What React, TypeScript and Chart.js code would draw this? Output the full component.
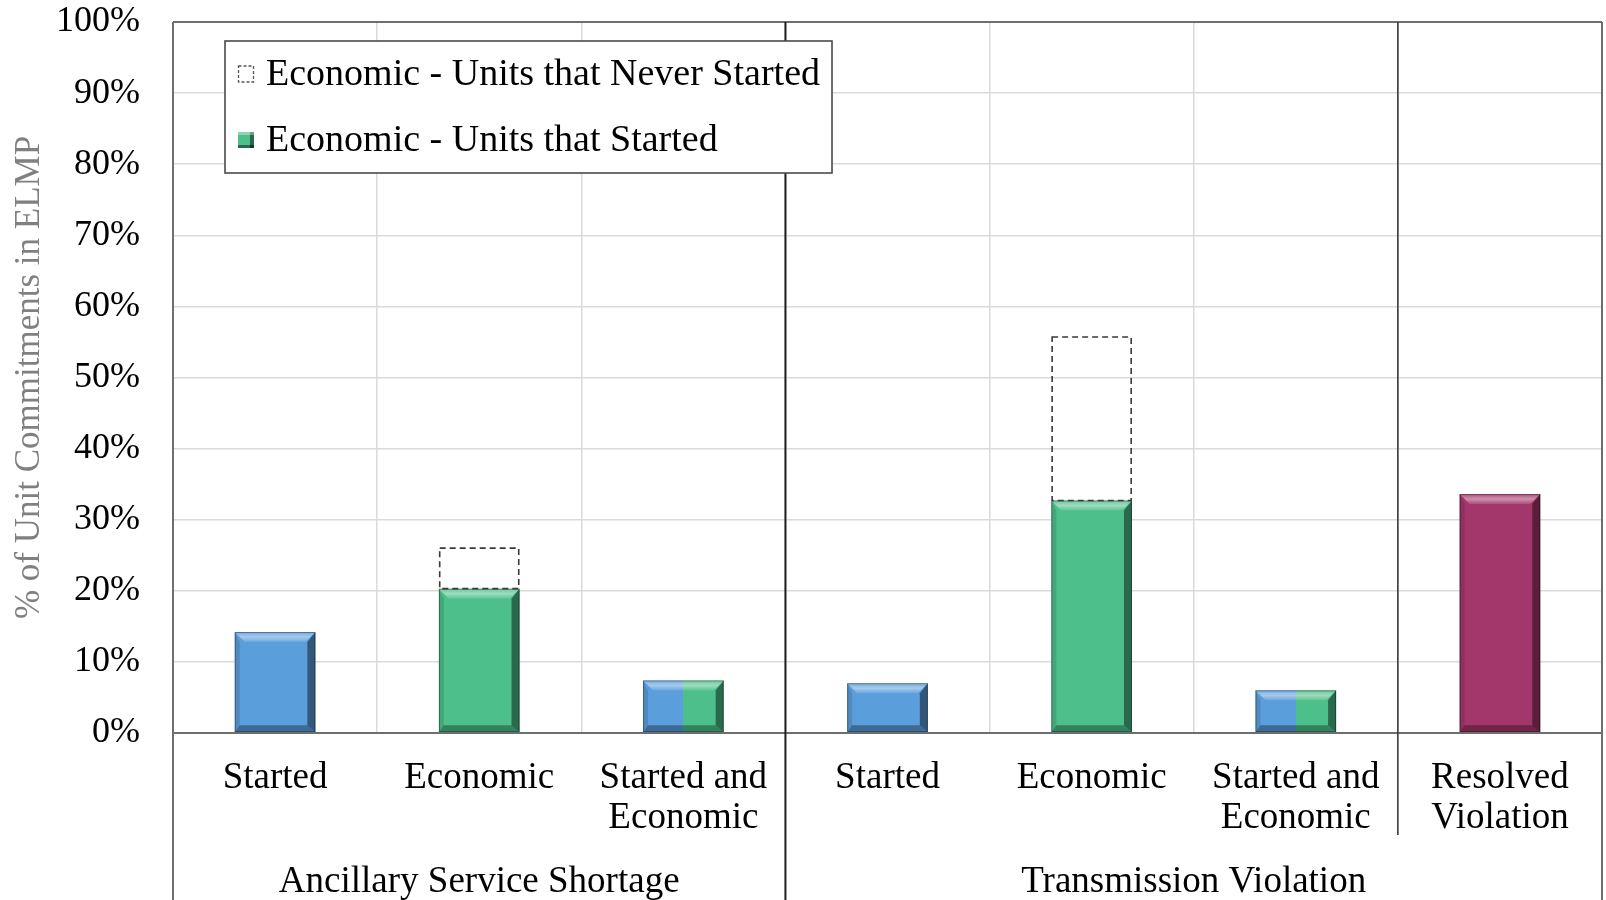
import { useEffect, useRef } from "react";
import { Chart, registerables } from "chart.js";

Chart.register(...registerables);

// Category labels along the x axis (multi-line where wrapped)
const categories: string[][] = [
  ["Started"],
  ["Economic"],
  ["Started and", "Economic"],
  ["Started"],
  ["Economic"],
  ["Started and", "Economic"],
  ["Resolved", "Violation"],
];

// Category groups shown beneath the labels
const groupLabels = ["Ancillary Service Shortage", "Transmission Violation"];
const groupFirst = [0, 3];
const groupLast = [2, 6];

// Share of unit commitments in ELMP (%)
const startedValues = [14.2, null, null, 7.0, null, null, null];
const economicStartedValues = [null, 20.3, null, null, 32.7, null, null];
const startedAndEconomicValues = [null, null, 7.4, null, null, 6.0, null];
const resolvedViolationValues = [null, null, null, null, null, null, 33.6];
// Portion on top of the economic bars for units that never started
const economicNeverStartedValues = [null, 5.7, null, null, 23.0, null, null];

const yTicks = [0, 10, 20, 30, 40, 50, 60, 70, 80, 90, 100];

const BLUE = "#5B9EDC";
const GREEN = "#4DBF8A";
const MAROON = "#A3376B";
const SERIF = "'Liberation Serif', 'Times New Roman', Times, serif";

function categoryBounds(chart: any, i: number) {
  const xs = chart.scales.x;
  const step = xs.getPixelForValue(1) - xs.getPixelForValue(0);
  const c = xs.getPixelForValue(i);
  return { left: c - step / 2, right: c + step / 2 };
}

// Bevelled faces on solid bars, dashed outlines on the "never started" portion
const barStylePlugin = {
  id: "barStyle",
  afterDatasetsDraw(chart: any) {
    const ctx = chart.ctx as CanvasRenderingContext2D;
    chart.data.datasets.forEach((ds: any, di: number) => {
      const meta = chart.getDatasetMeta(di);
      meta.data.forEach((el: any, i: number) => {
        if (ds.data[i] == null) return;
        const { x, y, base, width } = el.getProps(["x", "y", "base", "width"], true);
        if (!Number.isFinite(y) || !Number.isFinite(base)) return;
        const l = x - width / 2;
        const r = x + width / 2;
        const t = Math.min(y, base);
        const b = Math.max(y, base);
        ctx.save();
        if (ds.dashedOutline) {
          ctx.setLineDash([6, 4]);
          ctx.strokeStyle = "#3a3a3a";
          ctx.lineWidth = 1.6;
          ctx.strokeRect(l + 0.8, t, width - 1.6, b - t);
        } else {
          const bv = Math.min(10, (b - t) / 2);
          // top face
          ctx.beginPath();
          ctx.moveTo(l, t);
          ctx.lineTo(r, t);
          ctx.lineTo(r - bv, t + bv);
          ctx.lineTo(l + bv, t + bv);
          ctx.closePath();
          const tg = ctx.createLinearGradient(0, t, 0, t + bv);
          tg.addColorStop(0, "rgba(255,255,255,0.15)");
          tg.addColorStop(0.5, "rgba(255,255,255,0.45)");
          tg.addColorStop(1, "rgba(255,255,255,0.1)");
          ctx.fillStyle = tg;
          ctx.fill();
          // left face
          ctx.beginPath();
          ctx.moveTo(l, t);
          ctx.lineTo(l + bv * 0.5, t + bv);
          ctx.lineTo(l + bv * 0.5, b - bv * 0.7);
          ctx.lineTo(l, b);
          ctx.closePath();
          ctx.fillStyle = "rgba(0,0,0,0.12)";
          ctx.fill();
          // right face
          ctx.beginPath();
          ctx.moveTo(r, t);
          ctx.lineTo(r - bv * 0.8, t + bv);
          ctx.lineTo(r - bv * 0.8, b - bv * 0.7);
          ctx.lineTo(r, b);
          ctx.closePath();
          ctx.fillStyle = "rgba(0,0,0,0.45)";
          ctx.fill();
          // bottom face
          ctx.beginPath();
          ctx.moveTo(l, b);
          ctx.lineTo(l + bv * 0.5, b - bv * 0.7);
          ctx.lineTo(r - bv * 0.8, b - bv * 0.7);
          ctx.lineTo(r, b);
          ctx.closePath();
          ctx.fillStyle = "rgba(0,0,0,0.32)";
          ctx.fill();
          ctx.strokeStyle = "rgba(0,0,0,0.35)";
          ctx.lineWidth = 1;
          ctx.strokeRect(l + 0.5, t + 0.5, width - 1, b - t - 1);
        }
        ctx.restore();
      });
    });
  },
};

// Plot frame, section dividers, group captions and the inset legend
const frameAndLegendPlugin = {
  id: "frameAndLegend",
  afterDraw(chart: any) {
    const ctx = chart.ctx as CanvasRenderingContext2D;
    const area = chart.chartArea;
    const H = chart.height;
    const n = categories.length;
    const edge = (i: number) => (i < n ? categoryBounds(chart, i).left : categoryBounds(chart, n - 1).right);

    ctx.save();
    const line = (x1: number, y1: number, x2: number, y2: number, color: string, w: number) => {
      ctx.beginPath();
      ctx.moveTo(x1, y1);
      ctx.lineTo(x2, y2);
      ctx.strokeStyle = color;
      ctx.lineWidth = w;
      ctx.stroke();
    };
    // frame
    line(area.left, area.top, area.right, area.top, "#6e6e6e", 2);
    line(area.left, area.top, area.left, H, "#6e6e6e", 2);
    line(area.right, area.top, area.right, H, "#6e6e6e", 2);
    line(area.left, area.bottom, area.right, area.bottom, "#6e6e6e", 2);
    // dividers between the groups
    line(edge(3), area.top, edge(3), H, "#1e1e1e", 2);
    line(edge(6), area.top, edge(6), area.bottom + 102, "#3c3c3c", 1.6);

    // group captions
    ctx.fillStyle = "#000";
    ctx.font = `37px ${SERIF}`;
    ctx.textAlign = "center";
    ctx.textBaseline = "middle";
    groupLabels.forEach((g, k) => {
      const cx = (edge(groupFirst[k]) + edge(groupLast[k] + 1)) / 2;
      ctx.fillText(g, cx, area.bottom + 149);
    });

    // legend
    const items = [
      { text: chart.data.datasets[4].label, dashed: true },
      { text: chart.data.datasets[1].label, dashed: false },
    ];
    ctx.font = `38px ${SERIF}`;
    const bx = area.left + 52;
    const by = area.top + 19;
    const textX = bx + 41;
    const maxW = Math.max(...items.map((it) => ctx.measureText(it.text).width));
    const bw = textX - bx + maxW + 12;
    const rowH = 66;
    const bh = rowH * items.length;
    ctx.fillStyle = "#ffffff";
    ctx.fillRect(bx, by, bw, bh);
    ctx.strokeStyle = "#4a4a4a";
    ctx.lineWidth = 1.6;
    ctx.strokeRect(bx, by, bw, bh);
    items.forEach((it, k) => {
      const cy = by + rowH / 2 + k * rowH;
      const mx = bx + 13;
      const ms = 16;
      if (it.dashed) {
        ctx.setLineDash([3, 2]);
        ctx.strokeStyle = "#555";
        ctx.lineWidth = 1.3;
        ctx.strokeRect(mx + 0.5, cy - ms / 2, ms - 1, ms);
        ctx.setLineDash([]);
      } else {
        ctx.fillStyle = GREEN;
        ctx.fillRect(mx, cy - ms / 2, ms, ms);
        ctx.fillStyle = "rgba(0,0,0,0.45)";
        ctx.fillRect(mx + ms - 4, cy - ms / 2, 4, ms);
        ctx.fillRect(mx, cy + ms / 2 - 3, ms, 3);
        ctx.fillStyle = "rgba(255,255,255,0.35)";
        ctx.fillRect(mx, cy - ms / 2, ms, 3);
      }
      ctx.fillStyle = "#000";
      ctx.textAlign = "left";
      ctx.textBaseline = "middle";
      ctx.fillText(it.text, textX, cy + 1);
    });
    ctx.restore();
  },
};

// Left half blue (started), right half green (economic)
function splitFill(context: any) {
  const chart = context.chart;
  const xs = chart.scales && chart.scales.x;
  if (!xs || context.dataIndex == null) return BLUE;
  const cx = xs.getPixelForValue(context.dataIndex);
  if (!Number.isFinite(cx)) return BLUE;
  const g = chart.ctx.createLinearGradient(cx - 1, 0, cx + 1, 0);
  g.addColorStop(0, BLUE);
  g.addColorStop(0.5, BLUE);
  g.addColorStop(0.5, GREEN);
  g.addColorStop(1, GREEN);
  return g;
}

export default function App() {
  const canvasRef = useRef<HTMLCanvasElement | null>(null);

  useEffect(() => {
    document.body.style.margin = "0";
    const canvas = canvasRef.current;
    if (!canvas) return;

    const barCommon = {
      stack: "s",
      categoryPercentage: 1,
      barPercentage: 0.395,
      borderWidth: 0,
    };

    const chart = new Chart(canvas, {
      type: "bar",
      data: {
        labels: categories,
        datasets: [
          { ...barCommon, label: "Started", data: startedValues, backgroundColor: BLUE },
          { ...barCommon, label: "Economic - Units that Started", data: economicStartedValues, backgroundColor: GREEN },
          { ...barCommon, label: "Started and Economic", data: startedAndEconomicValues, backgroundColor: splitFill },
          { ...barCommon, label: "Resolved Violation", data: resolvedViolationValues, backgroundColor: MAROON },
          {
            ...barCommon,
            label: "Economic - Units that Never Started",
            data: economicNeverStartedValues,
            backgroundColor: "rgba(0,0,0,0)",
            dashedOutline: true,
          } as any,
        ],
      },
      options: {
        animation: false,
        responsive: false,
        devicePixelRatio: 1,
        layout: { padding: { top: 22, right: 4, left: 0, bottom: 0 } },
        plugins: {
          legend: { display: false },
          tooltip: { enabled: false },
        },
        scales: {
          x: {
            stacked: true,
            offset: true,
            grid: { offset: true, color: "#dadada", lineWidth: 1.5, drawTicks: false },
            border: { display: false },
            ticks: {
              color: "#000",
              autoSkip: false,
              maxRotation: 0,
              padding: 25,
              font: { family: SERIF, size: 37, lineHeight: 1.08 },
            },
            afterFit: (scale: any) => {
              scale.height = 167;
              scale.paddingLeft = 0;
              scale.paddingRight = 0;
            },
          },
          y: {
            stacked: true,
            min: 0,
            max: 100,
            afterBuildTicks: (scale: any) => {
              scale.ticks = yTicks.map((v) => ({ value: v }));
            },
            grid: { color: "#dadada", lineWidth: 1.5, drawTicks: false },
            border: { display: false },
            ticks: {
              color: "#000",
              padding: 33,
              font: { family: SERIF, size: 36 },
              callback: (v: any) => `${v}%`,
            },
            title: {
              display: true,
              text: "% of Unit Commitments in ELMP",
              color: "#808080",
              font: { family: SERIF, size: 35, lineHeight: 1.2 },
              padding: { top: 9, bottom: 0 },
            },
            afterFit: (scale: any) => {
              scale.width = 173;
              scale.paddingTop = 0;
              scale.paddingBottom = 0;
            },
          },
        },
      },
      plugins: [barStylePlugin, frameAndLegendPlugin],
    });

    return () => {
      chart.destroy();
    };
  }, []);

  return <canvas ref={canvasRef} width={1606} height={900} style={{ display: "block" }} />;
}
